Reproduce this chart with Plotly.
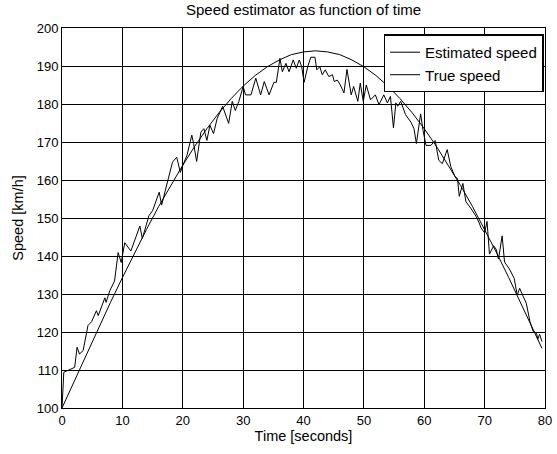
import plotly.graph_objects as go

# True speed (smooth curve)
true_t = [0, 2, 4, 6, 8, 10, 12, 14, 16, 18, 20, 22, 24, 26, 28, 30, 32, 34, 36, 38,
          40, 42, 44, 46, 48, 50, 52, 54, 56, 58, 60, 62, 64, 66, 68, 70, 72, 74, 76, 78, 79.5]
true_v = [100, 107.0, 114.0, 120.9, 127.7, 134.3, 140.8, 147.0, 153.0, 158.6, 163.9, 168.9,
          173.5, 177.7, 181.4, 184.7, 187.5, 189.8, 191.6, 193.0, 193.7, 194.0, 193.7, 193.0,
          191.6, 189.8, 187.5, 184.7, 181.4, 177.7, 173.5, 168.9, 163.9, 158.6, 153.0, 147.0,
          140.8, 134.3, 127.7, 120.9, 115.7]

# Estimated speed (noisy curve)
est_t = [0, 0.3, 1, 2.1, 2.5, 2.9, 3.5, 4.3, 4.9, 5.7, 6, 7.1, 7.3, 7.9, 8.7, 9.3, 9.8, 10.4,
         11.4, 12.9, 13.3, 14.4, 15, 16.1, 16.5, 17.5, 18.3, 19, 19.6, 20, 20.7, 21.5, 21.8,
         22.3, 23, 23.5, 24, 24.5, 25.1, 25.7, 26.6, 27.6, 28.2, 28.7, 29.3, 30, 30.4, 31.3,
         32.1, 32.9, 33.5, 34.3, 35.1, 35.5, 36.1, 36.5, 37.1, 37.6, 38.3, 38.8, 39.3, 39.7,
         40.1, 40.7, 41.2, 41.9, 42.2, 42.7, 43.1, 43.6, 44.2, 44.8, 45.1, 45.6, 46.1, 46.7,
         47.2, 47.9, 48.3, 49, 49.4, 49.9, 50.4, 51.1, 51.9, 52.5, 53.3, 53.9, 54.4, 54.9,
         55.3, 55.6, 56.1, 56.9, 57.8, 58.3, 58.7, 59.4, 59.8, 60.3, 61.1, 61.8, 62.4, 63,
         63.8, 64.4, 65.1, 65.5, 65.8, 66.4, 66.9, 67.7, 68.6, 69.1, 69.4, 70, 70.4, 70.8,
         71.5, 71.9, 72.3, 72.9, 73.3, 74.1, 74.9, 75.4, 75.8, 76.4, 76.9, 77.5, 78, 78.6,
         78.8, 79.1, 79.5]
est_v = [100, 109.4, 109.9, 110.7, 116, 114.2, 115.1, 121.7, 122.7, 125.6, 124.3, 129, 127.8,
         130.8, 133.4, 140.9, 138.3, 143.5, 141.3, 147.9, 144.6, 150.6, 151.9, 156.8, 153.4,
         159.4, 164.7, 166, 162, 163.8, 166.5, 171.8, 169.6, 164.9, 172.6, 173.5, 170.4, 174.4,
         172.2, 176.2, 179.4, 174.9, 180.7, 178.3, 180.7, 184.6, 182.4, 182.4, 186.8, 182.4,
         185.9, 182.4, 185.7, 185.7, 192, 188.5, 190.7, 188.5, 191.6, 189.4, 191.6, 189.8,
         185.7, 189.8, 192.3, 192.3, 189, 189.8, 187.7, 189, 187.2, 187.7, 185.9, 186.3, 185,
         182.9, 189.1, 182.4, 184.6, 180.7, 185.5, 180.7, 185, 181.1, 182.4, 179.8, 182.4,
         180.3, 182, 173.7, 180.3, 179.4, 180.7, 177.2, 175.2, 173.5, 169.6, 177.4, 173, 169.1,
         169.1, 170.4, 165.2, 164.3, 168, 163.5, 160.9, 160.4, 155.7, 159.1, 154.3, 152.6,
         150.4, 148.7, 147.4, 146.1, 149.1, 140.5, 142.7, 141.8, 139.2, 145.3, 138.4, 136.6,
         134.1, 129.7, 131.5, 129.3, 127.6, 122.8, 120.3, 119.6, 118.1, 119.4, 117.5]

x_ticks = [0, 10, 20, 30, 40, 50, 60, 70, 80]
y_ticks = [100, 110, 120, 130, 140, 150, 160, 170, 180, 190, 200]

FONT = "Liberation Sans, Arial, sans-serif"

fig = go.Figure()
fig.add_trace(go.Scatter(x=est_t, y=est_v, mode="lines", name="Estimated speed",
                         line=dict(color="black", width=1)))
fig.add_trace(go.Scatter(x=true_t, y=true_v, mode="lines", name="True speed",
                         line=dict(color="black", width=1)))

axis_common = dict(showline=True, linecolor="black", linewidth=1, mirror="ticks",
                   ticks="inside", ticklen=5, tickcolor="black",
                   showgrid=True, gridcolor="black", gridwidth=1,
                   zeroline=False, automargin=False,
                   tickfont=dict(family=FONT, size=13, color="black"))

fig.update_layout(
    width=557, height=454,
    margin=dict(l=62, r=12, t=28, b=46),
    paper_bgcolor="white", plot_bgcolor="white",
    font=dict(family=FONT, size=13, color="black"),
    title=dict(text="Speed estimator as function of time", x=0.5, xref="paper",
               y=1 - 10 / 454, yref="container", yanchor="middle",
               font=dict(family=FONT, size=15, color="black")),
    xaxis=dict(range=[0, 80], tickvals=x_ticks,
               title=dict(text="Time [seconds]", standoff=4,
                          font=dict(family=FONT, size=14.5, color="black")),
               **axis_common),
    yaxis=dict(range=[100, 200], tickvals=y_ticks,
               title=dict(text="Speed [km/h]", standoff=9,
                          font=dict(family=FONT, size=14.5, color="black")),
               **axis_common),
    legend=dict(x=0.997, y=0.983, xanchor="right", yanchor="top",
                bgcolor="white", bordercolor="black", borderwidth=1.5,
                font=dict(family=FONT, size=15, color="black"),
                tracegroupgap=0, itemwidth=30),
    showlegend=True,
)

fig.write_html("out.html")
